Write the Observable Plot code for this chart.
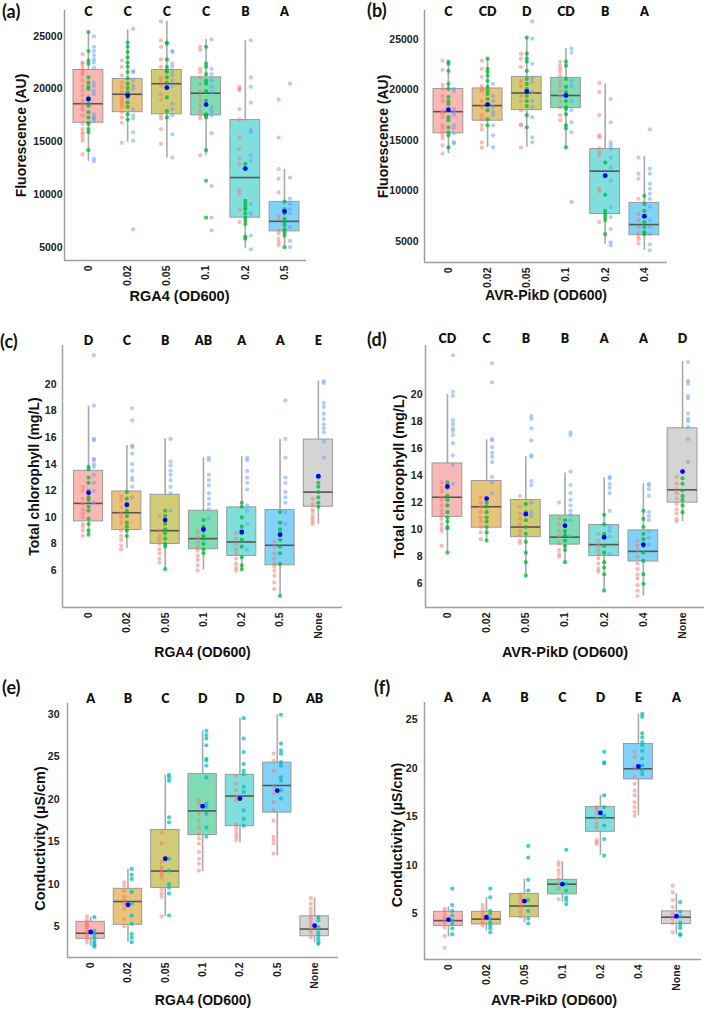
<!DOCTYPE html>
<html><head><meta charset="utf-8">
<script src="https://cdn.jsdelivr.net/npm/d3@7"></script>
<script src="https://cdn.jsdelivr.net/npm/@observablehq/plot@0.6"></script>
<style>
body{margin:0;background:#fff;}
#wrap{position:relative;width:709px;height:1013px;overflow:hidden;background:#fff;}
.pnl{position:absolute;}
.tag{position:absolute;font-family:Lato,'Open Sans',sans-serif;font-weight:700;font-size:18px;color:#111;line-height:1;}
</style></head>
<body><div id="wrap"></div>
<script>
// ---------------- DATA ----------------
// (a) Fluorescence vs RGA4
const catsA = ["0","0.02","0.05","0.1","0.2","0.5"];
const lettersA = ["C","C","C","C","B","A"];
const q1A = [16800,17800,17600,17500,7800,6500];
const medA = [18600,19500,20500,19600,11600,7450];
const q3A = [21800,20950,21800,21100,17050,9300];
const loA = [13150,14950,13450,13700,4850,5000];
const hiA = [25400,25600,26400,24700,24600,12350];
const meanA = [19030,19380,20130,18520,12450,8400];
const redA = [
 [23300,22500,22400,22100,21800,21600,21400,20800,20300,19900,19400,18900,18600,18300,18000,17500,16700,16200,15900,15700,15400,15100,13800],
 [22700,22100,21300,20600,20200,19700,19200,18900,18600,18300,17800,17300,16800,14900],
 [26400,24600,24000,22800,22100,21100,20800,20300,19500,19000,17500,17200,16200,14800],
 [24000,23700,21900,21600,21100,20500,19800,19400,18900,18400,17900,17500,17200,13700],
 [20200,20000,19900,18100,17100,15400,14300,13400,12900,10400,10100,8600,7400],
 [19000,15400,12400,11500,10200,8000,7700,6600,6300,5800,5500,5200]
];
const greenA = [
 [25400,23600,22700,22400,21100,20600,20200,20000,19200,18600,18400,17800,17300,16800,16700,16200,15900,14200],
 [24400,24000,23500,23000,22500,22100,21600,21000,20500,20100,19700,19200,18700,18300,17600,17100],
 [24400,24300,22800,22100,21800,21600,21100,20600,20100,19200,17900,17300],
 [24000,22400,22100,21400,20800,20500,19800,18900,17600,17500,17300,14200,11300,7800],
 [12900,9400,9100,8800,8600,8200,7800,7500,7200,6000,5800],
 [9300,8600,8200,7700,7400,7100,6700,6400,6100,5000]
];
const blueA = [
 [25000,24000,23600,23200,22800,22500,22000,20600,20300,19800,19500,17600,17300,17200,17000,13400,13150],
 [25700,21700,21600,20800,20300,20000,18100,17500,17200,15900,15100,6700],
 [23600,23500,22400,22100,21600,21300,20800,20300,18600,18100,17500,15700,13500],
 [24700,21900,21400,20800,20200,19700,18300,17900,17500,15800,10800,7800,6600],
 [24600,21100,20200,18700,16100,15900,13700,13200,9100,8200,6100,4800],
 [20500,11600,9600,9100,8600,8200,6900,5600,5000]
];

// (b) Fluorescence vs AVR-PikD
const catsB = ["0","0.02","0.05","0.1","0.2","0.4"];
const lettersB = ["C","CD","D","CD","B","A"];
const q1B = [15700,16950,18000,18200,7700,5600];
const medB = [17850,18450,19700,19450,11950,6650];
const q3B = [20100,20150,21300,21200,14150,8800];
const loB = [13700,14300,14300,14300,4700,4100];
const hiB = [22900,23100,25200,24100,20600,13400];
const meanB = [18050,18550,19850,19450,11500,7480];
const redB = [
 [22900,22000,20500,20100,19400,18900,17900,17700,17300,16500,16200,15800,15500,15200,14500,13700],
 [22900,22100,21300,20400,20100,19900,18900,18300,17500,17100,16500,16100,14800,14300],
 [23600,23100,22300,20900,20400,19400,18900,18000,16600,16500,14300],
 [22800,22400,22100,21800,21400,20900,20400,19900,19400,18900,18300,17500,17000],
 [20700,19800,17500,15500,15300,14200,13800,13500,10200,10000,6900],
 [13300,11700,11200,9200,7700,7100,6400,5800,5500,5200,4800]
];
const greenB = [
 [22800,22600,21900,20600,20100,19300,18900,18600,17300,17000,16300,15800,15500,14300],
 [23100,22100,21800,21400,20900,20300,19900,19600,19100,18600,18000,17100,16500],
 [25200,23600,23100,22800,21900,21100,20600,20100,19400,18900,18400,17500,16300],
 [22800,22400,21100,20300,19800,18900,18300,18100,17600,16500,16200,14300],
 [12800,9600,8000,7700,7400,7100,5700],
 [9500,8700,8000,7400,6900,6400,5900,5700]
];
const blueB = [
 [20100,19900,18100,17800,17500,16500,16200,15700,14800,14700],
 [20600,19400,18900,18300,17800,17500,16500,15500,14300],
 [26800,25100,22600,21200,20800,19800,18900,18300,17300,15300,14800],
 [24100,23700,20900,20400,18900,18000,16800,15800,8900],
 [19100,16800,14800,14500,14200,13300,12300,11000,8400,7400,6200,4900,4600],
 [16100,12200,11700,10700,10200,9700,9200,8400,7100,6400,5700,4700,4100]
];

// (c) Total chlorophyll vs RGA4
const catsC = ["0","0.02","0.05","0.1","0.2","0.5","None"];
const lettersC = ["D","C","B","AB","A","A","E"];
const q1C = [9.7,9.05,8.0,7.6,7.1,6.4,10.8];
const medC = [11.05,10.35,9.0,8.4,8.15,7.9,11.9];
const q3C = [13.5,11.95,11.7,10.5,10.75,10.55,15.85];
const loC = [8.7,7.65,6.1,6.05,6.05,4.1,9.5];
const hiC = [18.35,15.4,15.9,14.5,14.55,15.9,20.25];
const meanC = [11.85,10.95,9.8,9.1,8.9,8.7,13.1];
const redC = [
 [12.3,12.0,11.4,11.0,10.6,10.3,10.0,9.5,9.3,9.0,8.6],
 [11.6,11.3,10.8,10.3,10.0,9.6,9.0,8.6,8.3,7.9,7.6],
 [10.1,9.0,8.6,8.3,8.0,7.6,7.3,6.9,6.6],
 [8.9,8.5,8.1,7.8,7.5,7.1,6.8,6.4,6.0],
 [8.8,8.4,8.0,7.6,7.3,6.9,6.5,6.2,6.0],
 [8.2,7.8,7.3,6.9,6.5,6.3,6.0,5.6,5.1,4.6],
 [11.4,11.0,10.6,10.4,10.1,9.9,9.7,9.5]
];
const greenC = [
 [13.8,13.6,13.0,12.6,12.0,11.5,11.3,10.8,10.5,9.9,9.5,9.0,8.7],
 [11.9,11.4,10.9,10.5,10.1,9.6,9.3,9.0,8.6],
 [10.5,10.1,9.5,9.1,8.8,8.4,8.0,7.8,6.1],
 [9.8,9.3,9.0,8.6,8.4,8.0,7.6,7.3],
 [11.1,10.8,10.0,9.3,8.8,8.3,7.8,7.0,6.4,6.1],
 [10.4,9.6,9.1,8.8,8.3,7.8,7.3,6.5,4.1],
 [13.0,12.6,12.3,11.9,11.5,11.1,10.8]
];
const blueC = [
 [22.2,18.4,15.9,15.8,14.4,14.3,14.0,13.8,13.2,12.6,12.0,11.1],
 [18.2,17.3,15.4,15.3,14.8,14.0,13.5,13.0,12.8,12.3,11.5],
 [15.9,14.2,13.9,13.5,13.2,12.8,12.3,11.8,10.5],
 [14.5,14.3,13.2,12.8,12.4,11.8,11.4,11.0,10.6,9.9],
 [14.5,14.3,13.5,13.0,12.6,12.1,10.9,10.5,9.5,7.6],
 [18.8,15.9,14.5,13.0,12.6,11.9,11.5,11.1,10.4,9.5],
 [20.25,20.1,18.6,18.3,17.8,17.4,17.0,16.7,16.4,15.7,14.5]
];

// (d) Total chlorophyll vs AVR-PikD
const catsD = ["0","0.02","0.05","0.1","0.2","0.4","None"];
const lettersD = ["CD","C","B","B","A","A","D"];
const q1D = [10.95,10.15,9.45,8.9,8.05,7.65,12.0];
const medD = [12.4,11.7,10.2,9.45,8.9,8.4,12.95];
const q3D = [14.9,13.6,12.2,11.05,10.35,9.95,17.5];
const loD = [8.35,9.2,6.6,7.55,5.5,5.1,10.6];
const hiD = [20.0,16.65,15.4,14.2,13.85,13.4,22.45];
const meanD = [13.2,12.3,11.15,10.3,9.45,8.9,14.3];
const redD = [
 [13.5,13.1,12.8,12.4,12.2,11.8,11.4,11.1,10.8,10.4,10.1,9.9,8.8],
 [12.4,12.0,11.7,11.3,10.9,10.6,10.2,9.8,9.3],
 [12.5,11.7,11.2,10.8,10.4,9.9,9.6,9.2,9.0],
 [12.0,10.8,10.4,9.9,9.5,9.0,8.5,8.2,8.0],
 [9.7,9.2,8.8,8.5,8.2,7.9,7.5,7.1,6.9],
 [9.2,8.8,8.5,8.0,7.5,7.1,6.7,6.4,5.9,5.5,5.1],
 [13.9,13.4,13.0,12.7,12.3,11.9,11.5,11.2,10.8,10.6]
];
const greenD = [
 [13.5,13.1,12.5,12.2,11.8,11.3,10.9,10.6,10.2,10.1,8.3],
 [12.0,11.7,11.3,10.9,10.6,10.2,9.8,9.2],
 [11.9,11.3,10.7,10.2,9.7,9.1,8.3,7.6,6.6],
 [10.7,10.3,9.9,9.6,9.2,8.8,8.5,7.6],
 [11.1,10.4,9.7,9.4,8.8,8.3,7.6,7.2,6.7,5.5],
 [11.4,10.8,10.2,9.7,9.3,8.8,8.3,7.7,6.7,6.0],
 [13.8,13.4,12.9,12.5,12.2,11.8,11.3]
];
const blueD = [
 [22.9,20.2,19.9,18.1,17.8,17.5,17.3,17.0,16.4,15.5,14.8,13.4],
 [22.3,20.9,16.7,16.6,16.1,15.7,15.4,15.0,13.9,13.5,12.7],
 [18.4,18.2,17.5,16.6,15.5,15.4,13.6,13.3,12.0,11.3,11.0],
 [17.2,17.0,14.3,13.3,12.7,12.2,11.8,11.4,11.1,10.7,9.5],
 [13.9,13.8,13.4,13.1,12.7,11.4,10.2,9.9,9.5,8.2],
 [13.4,13.3,13.0,12.5,11.3,11.0,10.7,9.9,9.4,8.9],
 [22.4,21.0,20.8,19.9,19.7,18.6,18.2,18.0,17.6,16.7,15.0]
];

// (e) Conductivity vs RGA4
const catsE = ["0","0.02","0.05","0.1","0.2","0.5","None"];
const lettersE = ["A","B","C","D","D","D","AB"];
const q1E = [3.55,5.2,9.55,15.8,16.85,18.45,3.85];
const medE = [4.2,7.95,11.55,18.65,20.4,21.65,4.7];
const q3E = [5.55,9.45,16.4,23.0,22.9,24.35,6.2];
const loE = [2.65,3.15,6.2,11.5,14.9,13.35,3.1];
const hiE = [6.1,11.75,22.9,28.1,29.6,30.0,8.35];
const meanE = [4.35,7.55,13.0,19.2,20.1,21.05,5.1];
const redE = [
 [6.2,5.8,5.5,5.3,5.1,4.9,4.6,4.3,3.9,3.5,3.1],
 [10.2,9.8,9.2,8.5,8.1,7.7,7.1,5.9,5.0],
 [16.1,14.8,12.6,12.0,11.6,11.2,10.8,9.4,8.9,8.5,6.2],
 [19.9,19.5,18.3,17.5,16.7,15.9,15.4,14.8,13.8,13.0,12.4,11.6],
 [22.8,21.9,21.1,20.3,19.9,17.1,16.7,16.3,15.9,15.6,15.2],
 [25.4,24.6,23.4,21.5,20.7,19.7,18.7,17.5,15.6,15.2,14.8,13.6],
 [8.35,7.7,7.1,6.7,6.3,5.9,5.5,5.1,4.7,4.3,3.7]
];
const cyanE = [
 [6.1,4.5,4.1,3.7,3.3,3.0,2.8,2.6],
 [11.8,11.1,10.6,9.1,7.7,6.3,5.3,4.1,3.7,3.15],
 [22.9,22.6,22.2,17.9,17.3,13.0,11.6,10.0,9.6,8.9,6.3],
 [28.1,27.6,27.2,26.4,24.8,24.6,24.0,22.6,19.5,19.1,18.3,16.7,15.6],
 [29.6,27.2,25.6,24.2,23.4,23.0,21.5,20.9,18.7,17.7,16.9],
 [30.0,26.6,25.8,25.4,24.4,24.0,22.6,22.2,21.1,20.1],
 [6.1,5.7,4.9,4.3,3.9,3.5,3.1,2.95]
];

// (f) Conductivity vs AVR-PikD
const catsF = ["0","0.02","0.05","0.1","0.2","0.4","None"];
const lettersF = ["A","A","B","C","D","E","A"];
const q1F = [3.75,3.9,4.65,7.0,13.45,18.85,3.95];
const medF = [4.3,4.45,5.8,8.05,14.9,19.95,4.65];
const q3F = [5.2,5.2,7.05,8.5,16.0,22.5,5.25];
const loF = [2.6,3.25,4.05,6.2,11.0,15.1,2.85];
const hiF = [5.7,6.65,8.55,10.35,17.2,25.6,7.05];
const meanF = [4.4,4.65,6.3,8.05,15.4,20.2,4.75];
const redF = [
 [5.5,5.2,4.8,4.5,4.1,3.6,2.7,1.5],
 [5.9,5.5,5.2,4.8,4.5,4.1,3.8],
 [7.0,6.7,6.4,6.0,5.7,5.2,4.7],
 [10.3,10.0,9.5,9.1,8.6,8.1,7.6,6.5],
 [16.0,15.7,15.3,14.8,14.3,13.9,12.6,12.4,12.2],
 [21.7,21.2,20.1,19.1,18.4,17.7,17.2,16.5,16.0,15.5,15.1],
 [7.9,7.2,6.4,5.7,5.0,4.5,4.0,3.1]
];
const cyanF = [
 [7.6,5.9,5.3,4.8,4.3,4.0,3.5,2.9],
 [7.6,6.7,5.3,5.0,4.5,4.1,3.8,3.5,3.1],
 [12.0,10.8,8.5,7.4,6.4,5.3,4.5,4.0],
 [11.6,8.1,7.4,6.7,6.4,6.0],
 [21.7,20.6,20.5,17.2,16.0,15.1,15.0,14.1,12.7,11.0],
 [25.6,25.3,23.6,23.2,22.7,22.4,21.8,21.0,20.3,19.8,19.4],
 [6.2,5.2,4.7,4.1,3.8,3.5,2.9,2.8]
];

// ---------------- STYLE ----------------
const boxFills = ["#F9B8B3","#E7C37C","#D0CB75","#80DCB4","#80DEDD","#80D3F6","#D4D4D4"];
const FONT = "'Liberation Sans', Arial, sans-serif";
const LETTERFONT = "Lato, 'Open Sans', sans-serif";

function panel(cfg) {
  const n = cfg.cats.length;
  const hw = 0.38;
  const rows = cfg.cats.map((c, i) => ({i, q1: cfg.q1[i], med: cfg.med[i], q3: cfg.q3[i], lo: cfg.lo[i], hi: cfg.hi[i], mean: cfg.mean[i], letter: cfg.letters[i]}));
  const dotMarks = cfg.groups.map(g => {
    const pts = [];
    g.values.forEach((arr, i) => arr.forEach(v => pts.push({i, v})));
    return Plot.dot(pts, {x: d => d.i + g.off, y: "v", r: 2.1, fill: g.color, fillOpacity: g.op, stroke: "none"});
  });
  const svg = Plot.plot({
    width: cfg.w, height: cfg.h,
    marginLeft: cfg.ml, marginRight: cfg.mr, marginTop: cfg.mt, marginBottom: cfg.mb,
    x: {type: "linear", domain: cfg.xdom},
    y: {domain: cfg.ydom},
    color: {type: "ordinal", domain: d3.range(n), range: boxFills.slice(0, n)},
    style: {fontFamily: FONT, fontSize: "10.5px", fontWeight: "bold", color: "#222", background: "transparent", overflow: "visible"},
    marks: [
      Plot.axisY({ticks: cfg.yticks, tickFormat: d3.format("d"), tickSize: 0, tickPadding: cfg.tp, label: null, fontSize: 10.5, fontWeight: "bold"}),
      Plot.axisX({ticks: d3.range(n), tickFormat: i => cfg.cats[i], tickRotate: -90, tickSize: 0, tickPadding: 5, label: null, fontSize: 10.5, fontWeight: "bold"}),
      Plot.ruleX(rows, {x: "i", y1: "lo", y2: "hi", stroke: "#a9a9a9", strokeWidth: 1.6}),
      Plot.rect(rows, {x1: d => d.i - hw, x2: d => d.i + hw, y1: "q1", y2: "q3", fill: "i", stroke: "#9a9a9a", strokeWidth: 1}),
      Plot.ruleY(rows, {y: "med", x1: d => d.i - hw, x2: d => d.i + hw, stroke: "#555", strokeWidth: 1.6}),
      ...dotMarks,
      Plot.dot(rows, {x: "i", y: "mean", r: 2.4, fill: "#0000ff", stroke: "none"}),
      Plot.ruleX([cfg.xdom[0]], {stroke: "#a0a0a0", strokeWidth: 1.5}),
      Plot.ruleY([cfg.ydom[0]], {stroke: "#a0a0a0", strokeWidth: 1.5}),
      Plot.text(rows, {x: "i", text: "letter", frameAnchor: "top", lineAnchor: "middle", dy: cfg.ldy, fontFamily: LETTERFONT, fontSize: 12.5, fontWeight: 800, fill: "#111"}),
      Plot.text([cfg.ytitle], {text: d => d, frameAnchor: "left", textAnchor: "middle", lineAnchor: "middle", dx: cfg.ytx, dy: cfg.yty, rotate: -90, fontSize: cfg.yfs, fontWeight: "bold", fill: "#111"}),
      Plot.text([cfg.xtitle], {text: d => d, frameAnchor: "bottom", textAnchor: "middle", lineAnchor: "middle", dy: cfg.xty, dx: cfg.xtx, fontSize: cfg.xfs, fontWeight: "bold", fill: "#111"})
    ]
  });
  const div = document.createElement("div");
  div.className = "pnl";
  div.style.left = cfg.left + "px";
  div.style.top = cfg.top + "px";
  div.appendChild(svg);
  document.getElementById("wrap").appendChild(div);
  const tag = document.createElement("div");
  tag.className = "tag";
  tag.textContent = cfg.tag;
  tag.style.left = cfg.tagx + "px";
  tag.style.top = cfg.tagy + "px";
  document.getElementById("wrap").appendChild(tag);
}

const g3 = (r, g, b) => [
  {values: r, color: "#F8766D", off: -0.15, op: 0.5},
  {values: g, color: "#00BA38", off: 0, op: 0.75},
  {values: b, color: "#619CFF", off: 0.14, op: 0.5}
];
const g2 = (r, c) => [
  {values: r, color: "#F8766D", off: -0.1, op: 0.5},
  {values: c, color: "#00BFC4", off: 0.1, op: 0.75}
];

panel({tag: "(a)", tagx: 2, tagy: 2, left: 0, top: 0, w: 354, h: 330, ml: 64, mr: 48, mt: 10, mb: 70,
  xdom: [-0.61, 5.56], ydom: [3740, 27440], yticks: [5000,10000,15000,20000,25000], tp: 2,
  cats: catsA, letters: lettersA, q1: q1A, med: medA, q3: q3A, lo: loA, hi: hiA, mean: meanA,
  groups: g3(redA, greenA, blueA), ldy: 1,
  ytitle: "Fluorescence (AU)", ytx: -43, yty: 0, yfs: 14, xtitle: "RGA4 (OD600)", xty: 36, xtx: -6, xfs: 14.5});

panel({tag: "(b)", tagx: 367, tagy: 1, left: 354, top: 0, w: 355, h: 330, ml: 70, mr: 42, mt: 10, mb: 68,
  xdom: [-0.61, 5.59], ydom: [2890, 27880], yticks: [5000,10000,15000,20000,25000], tp: 6,
  cats: catsB, letters: lettersB, q1: q1B, med: medB, q3: q3B, lo: loB, hi: hiB, mean: meanB,
  groups: g3(redB, greenB, blueB), ldy: 1,
  ytitle: "Fluorescence (AU)", ytx: -41, yty: 0, yfs: 14, xtitle: "AVR-PikD (OD600)", xty: 33, xtx: 0, xfs: 14});

panel({tag: "(c)", tagx: 0, tagy: 332, left: 0, top: 330, w: 354, h: 340, ml: 62, mr: 12, mt: 15, mb: 63,
  xdom: [-0.68, 6.63], ydom: [3.22, 22.93], yticks: [6,8,10,12,14,16,18,20], tp: 6,
  cats: catsC, letters: lettersC, q1: q1C, med: medC, q3: q3C, lo: loC, hi: hiC, mean: meanC,
  groups: g3(redC, greenC, blueC), ldy: -5,
  ytitle: "Total chlorophyll (mg/L)", ytx: -28, yty: 0, yfs: 14, xtitle: "RGA4 (OD600)", xty: 45, xtx: 0, xfs: 14});

panel({tag: "(d)", tagx: 367, tagy: 330, left: 354, top: 330, w: 355, h: 340, ml: 71, mr: 5, mt: 15, mb: 63,
  xdom: [-0.56, 6.56], ydom: [4.25, 23.62], yticks: [6,8,10,12,14,16,18,20], tp: 3,
  cats: catsD, letters: lettersD, q1: q1D, med: medD, q3: q3D, lo: loD, hi: hiD, mean: meanD,
  groups: g3(redD, greenD, blueD), ldy: -7,
  ytitle: "Total chlorophyll (mg/L)", ytx: -26, yty: 0, yfs: 14.5, xtitle: "AVR-PikD (OD600)", xty: 45, xtx: 0, xfs: 14.5});

panel({tag: "(e)", tagx: 2, tagy: 678, left: 0, top: 670, w: 354, h: 343, ml: 67, mr: 16, mt: 33, mb: 56,
  xdom: [-0.62, 6.64], ydom: [1.34, 31.33], yticks: [5,10,15,20,25,30], tp: 8,
  cats: catsE, letters: lettersE, q1: q1E, med: medE, q3: q3E, lo: loE, hi: hiE, mean: meanE,
  groups: g2(redE, cyanE), ldy: -5,
  ytitle: "Conductivity (µS/cm)", ytx: -27, yty: 8, yfs: 14.5, xtitle: "RGA4 (OD600)", xty: 43, xtx: 0, xfs: 14});

panel({tag: "(f)", tagx: 374, tagy: 678, left: 354, top: 670, w: 355, h: 343, ml: 70, mr: 8, mt: 32, mb: 54,
  xdom: [-0.63, 6.66], ydom: [0.29, 26.78], yticks: [5,10,15,20,25], tp: 7,
  cats: catsF, letters: lettersF, q1: q1F, med: medF, q3: q3F, lo: loF, hi: hiF, mean: meanF,
  groups: g2(redF, cyanF), ldy: -5,
  ytitle: "Conductivity (µS/cm)", ytx: -27, yty: 4, yfs: 14.5, xtitle: "AVR-PikD (OD600)", xty: 41, xtx: -9, xfs: 14.5});
</script>
</body></html>
